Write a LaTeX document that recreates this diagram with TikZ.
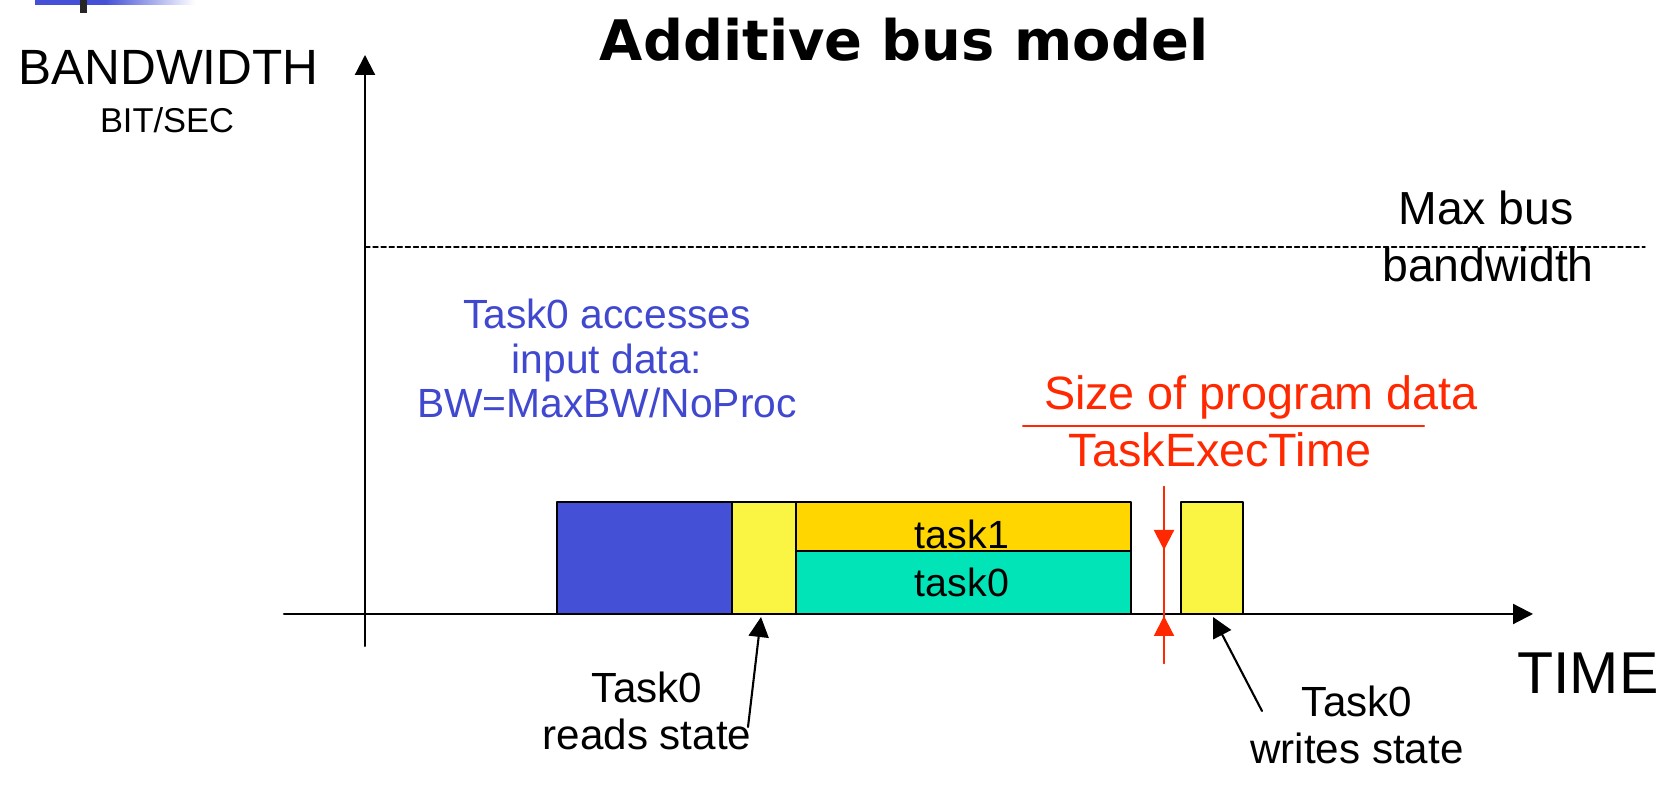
\documentclass[tikz,border=0pt]{standalone}
\usepackage{fontspec}
\setmainfont{Liberation Sans}
\newfontfamily\headfont{DejaVu Sans}
\usepackage{tkz-euclide}
\usetikzlibrary{calc}
\usetikzlibrary{positioning}
\usetikzlibrary{arrows.meta}

\definecolor{inblue}{RGB}{68,80,214}
\definecolor{stateyellow}{RGB}{250,245,66}
\definecolor{taskgold}{RGB}{255,214,0}
\definecolor{taskteal}{RGB}{0,228,184}
\definecolor{notered}{RGB}{255,40,0}
\definecolor{noteblue}{RGB}{64,72,208}

\begin{document}
\begin{tikzpicture}[%
  >={Triangle[width=2mm,length=2mm]},
  titletext/.style={font=\headfont\bfseries\fontsize{15.9}{19}\selectfont},
  axistext/.style={font=\fontsize{14.1}{17}\selectfont},
  unittext/.style={font=\fontsize{9.8}{12}\selectfont},
  maxtext/.style={font=\fontsize{13.2}{16}\selectfont},
  bluenote/.style={font=\fontsize{11.6}{12.8}\selectfont,text=noteblue,align=center},
  rednote/.style={font=\fontsize{13.3}{16}\selectfont,text=notered},
  tasktext/.style={font=\fontsize{11.2}{13}\selectfont},
  statetext/.style={font=\fontsize{12}{13.6}\selectfont,align=center},
  timetext/.style={font=\fontsize{16.8}{20}\selectfont}
]
  \useasboundingbox (0,0) rectangle (16.69,7.86);

  % slide corner
  \fill[inblue] (0.35,7.81) rectangle (1.05,7.86);
  \shade[left color=inblue,right color=white] (1.05,7.81) rectangle (1.95,7.86);
  \fill[black!85] (0.80,7.73) rectangle (0.87,7.86);

  \tkzDefPoint(3.65, 1.40){O}
  \tkzDefPoint(3.65, 7.31){Y}
  \tkzDefPoint(2.84, 1.72){X0}
  \tkzDefPoint(15.33, 1.72){X}
  \tkzDefPoint(3.65, 5.39){D0}
  \tkzDefPoint(16.45, 5.39){D1}

  \tkzDefPoint(5.57, 1.72){a0}
  \tkzDefPoint(7.32, 1.72){a1}
  \tkzDefPoint(7.96, 1.72){a2}
  \tkzDefPoint(11.31, 1.72){a3}
  \tkzDefPoint(11.81, 1.72){a4}
  \tkzDefPoint(12.43, 1.72){a5}
  \tkzDefPoint(7.96, 2.35){m2}
  \tkzDefPoint(11.31, 2.35){m3}
  \tkzDefPoint(5.57, 2.84){t0}
  \tkzDefPoint(7.32, 2.84){t1}
  \tkzDefPoint(7.96, 2.84){t2}
  \tkzDefPoint(11.31, 2.84){t3}
  \tkzDefPoint(11.81, 2.84){t4}
  \tkzDefPoint(12.43, 2.84){t5}

  \tkzDefPoint(11.64, 2.99){r1}
  \tkzDefPoint(11.64, 2.36){r2}
  \tkzDefPoint(11.64, 1.23){r3}
  \tkzDefPoint(11.64, 1.70){r4}
  \tkzDefPoint(10.23, 3.60){f1}
  \tkzDefPoint(14.24, 3.60){f2}

  \tkzDefPoint(7.48, 0.59){rs}
  \tkzDefPoint(7.61, 1.69){rt}
  \tkzDefPoint(12.62, 0.75){ws}
  \tkzDefPoint(12.13, 1.69){wt}

  \tkzDrawSegments[line width=0.6pt,->](O,Y X0,X)
  \tkzDrawSegments[line width=0.4pt,dash pattern=on 1.4pt off 0.9pt](D0,D1)

  \tkzFillPolygon[color=inblue](a0,a1,t1,t0)
  \tkzFillPolygon[color=stateyellow](a1,a2,t2,t1)
  \tkzFillPolygon[color=taskteal](a2,a3,m3,m2)
  \tkzFillPolygon[color=taskgold](m2,m3,t3,t2)
  \tkzFillPolygon[color=stateyellow](a4,a5,t5,t4)
  \tkzDrawPolygon[line width=0.6pt](a0,a1,t1,t0)
  \tkzDrawPolygon[line width=0.6pt](a1,a2,t2,t1)
  \tkzDrawPolygon[line width=0.6pt](a2,a3,m3,m2)
  \tkzDrawPolygon[line width=0.6pt](m2,m3,t3,t2)
  \tkzDrawPolygon[line width=0.6pt](a4,a5,t5,t4)

  \tkzDrawSegments[notered,line width=0.6pt](r1,r3 f1,f2)
  \tkzDrawSegments[notered,line width=0.6pt,->](r1,r2 r3,r4)
  \tkzDrawSegments[line width=0.6pt,->](rs,rt ws,wt)

  \node[titletext,anchor=base] (title) at (9.04,7.25) {Additive bus model};
  \node[axistext,anchor=base] (bw) at (1.685,7.01) {BANDWIDTH};
  \node[unittext,anchor=base] (bitsec) at (1.67,6.53) {BIT/SEC};
  \node[maxtext,anchor=base] (maxbus) at (14.86,5.61) {Max bus};
  \node[maxtext,anchor=base] (maxbw) at (14.88,5.04) {bandwidth};
  \node[bluenote,anchor=base] (access) at (6.07,3.68) {Task0 accesses\\input data:\\BW=MaxBW/NoProc};
  \node[rednote,anchor=base] (size) at (12.61,3.76) {Size of program data};
  \node[rednote,anchor=base] (exec) at (12.20,3.19) {TaskExecTime};
  \node[tasktext,anchor=base] (task1) at (9.62,2.37) {task1};
  \node[tasktext,anchor=base] (task0) at (9.62,1.89) {task0};
  \node[statetext,anchor=base] (reads) at (6.47,0.36) {Task0\\reads state};
  \node[statetext,anchor=base] (writes) at (13.57,0.22) {Task0\\writes state};
  \node[timetext,anchor=base] (time) at (15.88,0.92) {TIME};

\end{tikzpicture}
\end{document}
